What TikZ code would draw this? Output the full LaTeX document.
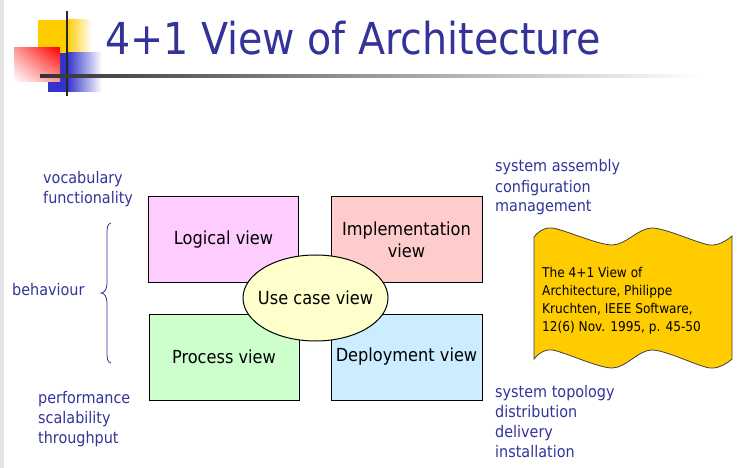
\documentclass[tikz,border=0pt]{standalone}
\usepackage{fontspec}
\setmainfont{DejaVu Sans Condensed}
\usetikzlibrary{shadings}
\definecolor{ttl}{HTML}{333399}
\definecolor{logoyel}{HTML}{FFCC00}
\definecolor{logoblu}{HTML}{3333CC}
\definecolor{logpink}{HTML}{FFCCFF}
\definecolor{improse}{HTML}{FFCCCC}
\definecolor{procgrn}{HTML}{CCFFCC}
\definecolor{depblu}{HTML}{CCECFF}
\definecolor{usecyel}{HTML}{FFFFCC}
\definecolor{docyel}{HTML}{FFCC00}
\begin{document}
\begin{tikzpicture}[x=1pt,y=-1pt,
  view/.style={draw,line width=1pt,minimum width=150pt,minimum height=86pt,align=center,font=\fontsize{18}{22}\selectfont},
  lbl/.style={ttl,anchor=base west,align=left,inner sep=0pt,font=\fontsize{16}{20}\selectfont}]
\useasboundingbox (0,0) rectangle (740,468);
\fill[gray!22](0,0) rectangle (3.5,468);

% logo
\fill[logoyel](38,20) rectangle (67,53);
\shade[left color=logoyel,right color=white](67,20) rectangle (92,53);
\fill[logoblu](48,53) rectangle (67,92);
\shade[left color=logoblu,right color=white](67,53) rectangle (102,92);
\shade[upper right=red,lower left=white,upper left=red!40,lower right=red!40](14,48) rectangle (60,82);
\draw[line width=2pt,black!85](67,11)--(67,96);
\shade[left color=black!80,right color=white](40,74.5) rectangle (700,77.5);
\node[ttl,anchor=base west,inner sep=0pt,font=\fontsize{44}{54}\selectfont] (title) at (105,55) {4+1 View of Architecture};

% views
\node[view,fill=logpink] (logical) at (223.5,239.5) {Logical view};
\node[view,fill=improse,minimum width=151pt] (impl) at (406.5,239.5) {Implementation\\view};
\node[view,fill=procgrn] (process) at (224,357) {Process view};
\node[view,fill=depblu,minimum width=151pt] (deploy) at (406.5,357) {Deployment view};
\draw[line width=1pt,fill=usecyel](315.5,298) ellipse (72.5 and 43);
\node[font=\fontsize{18}{22}\selectfont] (usecase) at (315.5,298) {Use case view};

% labels
\node[lbl] (vocab) at (43,204) {vocabulary\\functionality};
\node[lbl] (behav) at (12,296) {behaviour};
\node[lbl] (perf) at (38,443) {performance\\scalability\\throughput};
\node[lbl] (assembly) at (495,212) {system assembly\\configuration\\management};
\node[lbl] (topology) at (495,457) {system topology\\distribution\\delivery\\installation};
\draw[ttl,line width=.8pt](111,223) .. controls (107,224) and (107,228) .. (107,235)--(107,283)
  .. controls (107,290) and (104,293) .. (101,293) .. controls (104,293) and (107,296) .. (107,303)
  --(107,351) .. controls (107,358) and (107,362) .. (111,363);

% reference note
\draw[fill=docyel,draw=black!75,line width=.8pt] plot[smooth] coordinates{(534,237) (552,228) (612,245) (652,228) (710,245) (732,236)}
  -- plot[smooth] coordinates{(732,359) (710,368) (652,350) (612,368) (552,350) (534,359)} -- cycle;
\node[anchor=base west,align=left,inner sep=0pt,font=\fontsize{13.5}{18}\selectfont] (ref) at (542,331) {The 4+1 View of\\Architecture, Philippe\\Kruchten, IEEE Software,\\12(6) Nov. 1995, p. 45-50};
\end{tikzpicture}
\end{document}
